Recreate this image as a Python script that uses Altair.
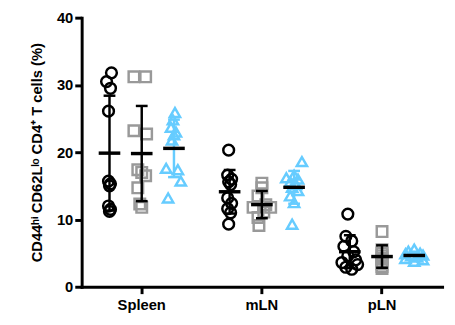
import altair as alt
import pandas as pd

tissues = ["Spleen", "mLN", "pLN"]
groups = ["A", "B", "C"]

spleen_a = [31.8, 30.5, 29.5, 26.1, 15.7, 15.3, 15.0, 12.0, 11.5, 11.2]
spleen_b = [31.2, 31.2, 23.2, 22.7, 17.4, 17.0, 16.5, 14.7, 12.3, 11.8]
spleen_c = [25.9, 24.8, 23.7, 23.0, 22.6, 21.8, 17.6, 17.4, 15.7, 13.2]
mln_a = [20.3, 16.6, 16.0, 15.6, 15.2, 13.2, 12.4, 11.6, 11.0, 9.3]
mln_b = [15.4, 14.7, 13.5, 12.2, 11.8, 11.8, 11.1, 10.3, 9.1]
mln_c = [18.6, 16.6, 16.2, 16.0, 15.6, 15.2, 14.8, 14.3, 13.5, 12.5, 9.3]
pln_a = [10.8, 7.5, 6.8, 6.0, 5.2, 4.6, 4.0, 3.6, 3.3, 2.9, 2.6]
pln_b = [8.2, 5.5, 5.0, 4.6, 4.2, 3.8, 3.4, 3.0, 2.7]
pln_c = [5.6, 5.3, 5.0, 4.9, 4.7, 4.6, 4.4, 4.2, 4.0, 3.8]

# horizontal scatter (jitter) of each point, in pixels
spleen_a_j = [2, -3, 1, -1, -1, 1, 0, -1, 1, 0]
spleen_b_j = [-8, 4, -8, 5, -4, 0, 4, -4, -2, 0]
spleen_c_j = [1, -1, -3, 2, 0, -2, -8, 4, 7, -6]
mln_a_j = [-1, -2, 2, -1, 1, -2, 2, -2, 1, -1]
mln_b_j = [0, 0, -4, 4, -9, 9, 2, -4, -3]
mln_c_j = [8, 0, -8, 4, -4, 2, -2, 4, -4, 0, -2]
pln_a_j = [-2, -4, 2, -6, 4, -2, 6, -8, 8, -4, 2]
pln_b_j = [0, 0, 0, 0, 0, 0, 0, 0, 0]
pln_c_j = [0, -6, 6, -9, 9, -3, 3, -9, 9, 0]

series = {
    ("Spleen", "A"): (spleen_a, spleen_a_j),
    ("Spleen", "B"): (spleen_b, spleen_b_j),
    ("Spleen", "C"): (spleen_c, spleen_c_j),
    ("mLN", "A"): (mln_a, mln_a_j),
    ("mLN", "B"): (mln_b, mln_b_j),
    ("mLN", "C"): (mln_c, mln_c_j),
    ("pLN", "A"): (pln_a, pln_a_j),
    ("pLN", "B"): (pln_b, pln_b_j),
    ("pLN", "C"): (pln_c, pln_c_j),
}

rows = []
for (t, g), (vals, jit) in series.items():
    for v, j in zip(vals, jit):
        rows.append({"tissue": t, "group": g, "value": v, "jitter": j})
df = pd.DataFrame(rows)

GAP = 33
offset_expr = f"(indexof(['A','B','C'], datum.group) - 1) * {GAP}"

x_enc = alt.X("tissue:N", sort=tissues,
              scale=alt.Scale(paddingInner=0, paddingOuter=0),
              axis=alt.Axis(title=None, labelAngle=0, domainWidth=3, domainColor="black",
                            tickWidth=3, tickColor="black", tickSize=7,
                            labelFont="Liberation Sans", labelFontWeight="bold",
                            labelFontSize=15, labelColor="black", labelPadding=4))
y_enc = alt.Y("value:Q",
              scale=alt.Scale(domain=[0, 40], nice=False),
              axis=alt.Axis(values=[0, 10, 20, 30, 40], title="CD44ʰⁱ CD62Lˡᵒ CD4⁺ T cells (%)",
                            domainWidth=3, domainColor="black", tickWidth=3, tickColor="black",
                            tickSize=7, grid=False, labelFont="Liberation Sans",
                            labelFontWeight="bold", labelFontSize=15, labelColor="black",
                            labelPadding=2, titleFont="Liberation Sans", titleFontWeight="bold",
                            titleFontSize=15, titleColor="black", titlePadding=12))
off_scale = alt.Scale(domain=[-61.5, 61.5], nice=False, zero=False)

base = alt.Chart(df)

points = base.transform_calculate(
    off=offset_expr + " + datum.jitter"
).mark_point(filled=False, strokeWidth=2.5, opacity=1).encode(
    x=x_enc,
    xOffset=alt.XOffset("off:Q", scale=off_scale),
    y=y_enc,
    shape=alt.Shape("group:N", scale=alt.Scale(domain=groups, range=["circle", "square", "triangle-up"]), legend=None),
    color=alt.Color("group:N", scale=alt.Scale(domain=groups, range=["black", "#999999", "#66CCFF"]), legend=None),
    size=alt.Size("group:N", scale=alt.Scale(domain=groups, range=[120, 110, 130]), legend=None),
)

stats = base.transform_aggregate(
    mean="mean(value)", sd="stdev(value)", groupby=["tissue", "group"]
).transform_calculate(
    lo="datum.mean - datum.sd", hi="datum.mean + datum.sd", off=offset_expr
)

bar_color = alt.condition(alt.datum.group == "C", alt.value("#66CCFF"), alt.value("black"))
xo = alt.XOffset("off:Q", scale=off_scale)

rule = stats.mark_rule(strokeWidth=2.5, opacity=1).encode(
    x=x_enc, xOffset=xo, y=alt.Y("lo:Q"), y2="hi:Q", color=bar_color)
cap_lo = stats.mark_tick(thickness=2.5, size=12, opacity=1).encode(
    x=x_enc, xOffset=xo, y=alt.Y("lo:Q"), color=bar_color)
cap_hi = stats.mark_tick(thickness=2.5, size=12, opacity=1).encode(
    x=x_enc, xOffset=xo, y=alt.Y("hi:Q"), color=bar_color)
mean_tick = stats.mark_tick(thickness=3.5, size=22, color="black", opacity=1).encode(
    x=x_enc, xOffset=xo, y=alt.Y("mean:Q"))

chart = alt.layer(points, rule, cap_lo, cap_hi, mean_tick).properties(
    width=367, height=274,
    autosize=alt.AutoSizeParams(type="none"),
    padding={"left": 75, "top": 7, "right": 5, "bottom": 30},
).configure_view(stroke=None).configure_axisX(domainCap="square").configure_axisY(domainCap="square")

chart.save("out.html", embed_options={"renderer": "svg", "actions": False})
